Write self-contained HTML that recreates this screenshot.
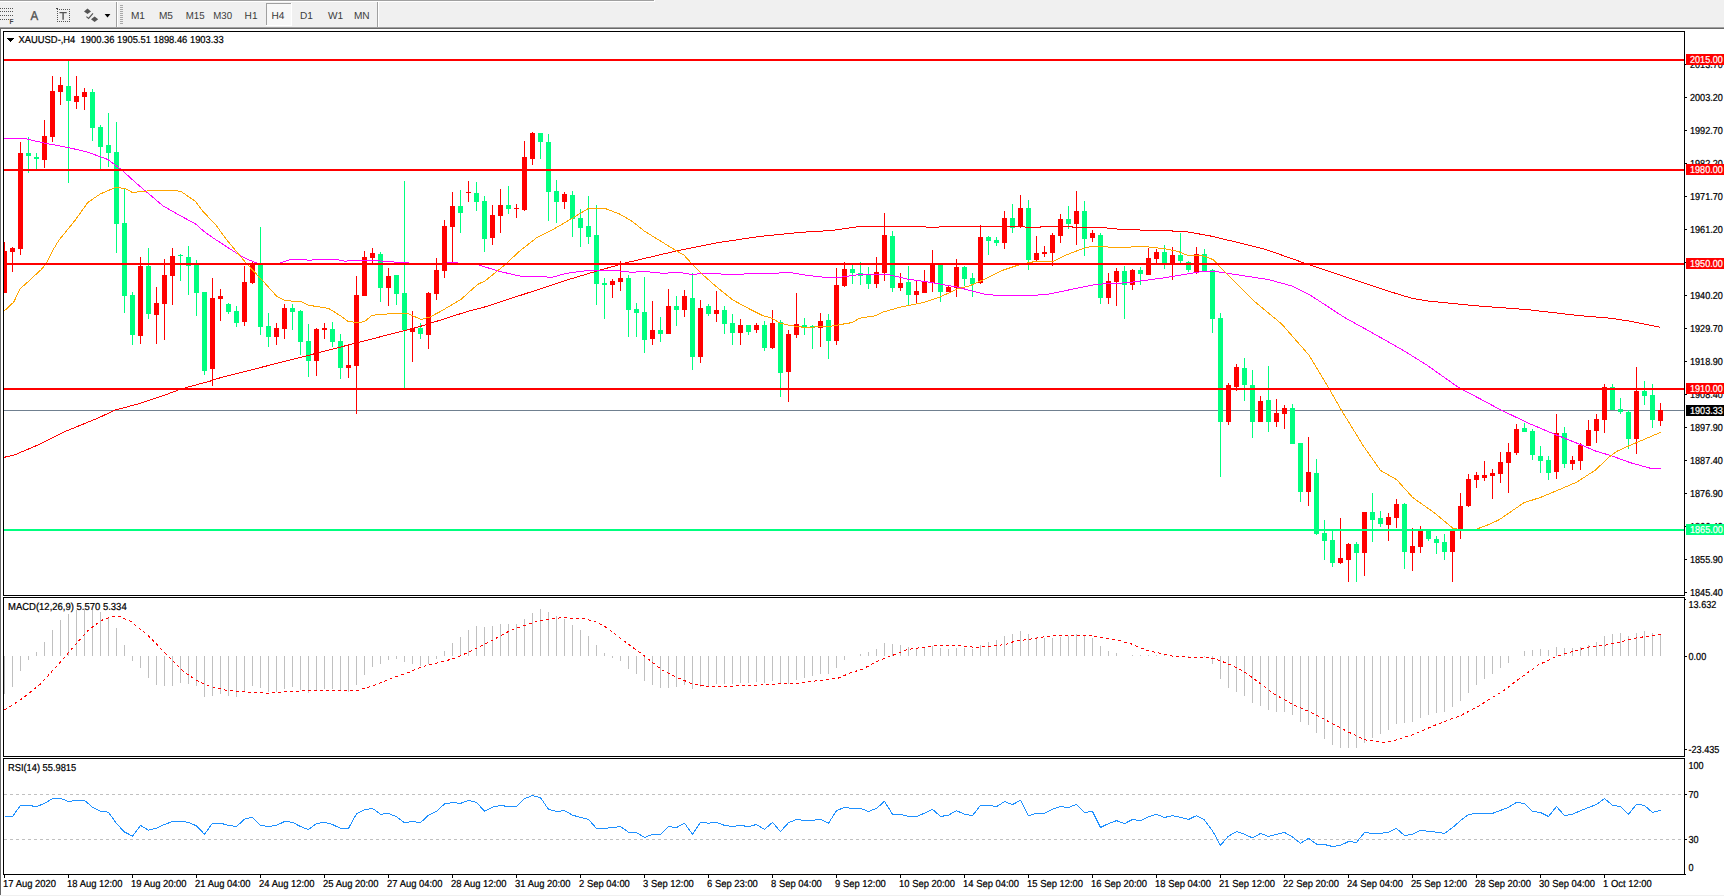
<!DOCTYPE html><html><head><meta charset="utf-8"><title>XAUUSD H4</title>
<style>html,body{margin:0;padding:0;background:#fff;}body{width:1724px;height:896px;overflow:hidden;}svg{display:block;font-family:"Liberation Sans",sans-serif;}.t{font-size:10.1px;fill:#000;stroke:#000;stroke-width:0.22px;text-rendering:geometricPrecision;}.tl{font-size:10.1px;fill:#000;stroke:#000;stroke-width:0.22px;text-rendering:geometricPrecision;}.w{fill:#fff;stroke:#fff;}.tb{font-size:10.1px;fill:#3c3c3c;text-rendering:geometricPrecision;}</style></head><body>
<svg width="1724" height="896" viewBox="0 0 1724 896">
<rect width="1724" height="896" fill="#fff"/>
<g shape-rendering="crispEdges">
<rect x="0" y="0" width="1724" height="27" fill="#f0f0f0"/>
<rect x="0" y="0" width="654" height="1" fill="#a0a0a0"/><rect x="0" y="1" width="655" height="1" fill="#fff"/><rect x="654" y="0" width="1" height="1" fill="#fff"/>
<rect x="0" y="27" width="1724" height="1" fill="#a0a0a0"/><rect x="0" y="28" width="1724" height="1" fill="#696969"/>
<rect x="0" y="8" width="1" height="1" fill="#555"/>
<rect x="2" y="8" width="1" height="1" fill="#555"/>
<rect x="4" y="8" width="1" height="1" fill="#555"/>
<rect x="6" y="8" width="1" height="1" fill="#555"/>
<rect x="8" y="8" width="1" height="1" fill="#555"/>
<rect x="10" y="8" width="1" height="1" fill="#555"/>
<rect x="12" y="8" width="1" height="1" fill="#555"/>
<rect x="0" y="11" width="1" height="1" fill="#555"/>
<rect x="2" y="11" width="1" height="1" fill="#555"/>
<rect x="4" y="11" width="1" height="1" fill="#555"/>
<rect x="6" y="11" width="1" height="1" fill="#555"/>
<rect x="8" y="11" width="1" height="1" fill="#555"/>
<rect x="10" y="11" width="1" height="1" fill="#555"/>
<rect x="12" y="11" width="1" height="1" fill="#555"/>
<rect x="0" y="15" width="1" height="1" fill="#555"/>
<rect x="2" y="15" width="1" height="1" fill="#555"/>
<rect x="4" y="15" width="1" height="1" fill="#555"/>
<rect x="6" y="15" width="1" height="1" fill="#555"/>
<rect x="8" y="15" width="1" height="1" fill="#555"/>
<rect x="10" y="15" width="1" height="1" fill="#555"/>
<rect x="12" y="15" width="1" height="1" fill="#555"/>
<rect x="0" y="19" width="1" height="1" fill="#555"/>
<rect x="2" y="19" width="1" height="1" fill="#555"/>
<rect x="4" y="19" width="1" height="1" fill="#555"/>
<rect x="6" y="19" width="1" height="1" fill="#555"/>
<rect x="8" y="19" width="1" height="1" fill="#555"/>
<rect x="57" y="9" width="1" height="1" fill="#555"/><rect x="57" y="21" width="1" height="1" fill="#555"/>
<rect x="59" y="9" width="1" height="1" fill="#555"/><rect x="59" y="21" width="1" height="1" fill="#555"/>
<rect x="61" y="9" width="1" height="1" fill="#555"/><rect x="61" y="21" width="1" height="1" fill="#555"/>
<rect x="63" y="9" width="1" height="1" fill="#555"/><rect x="63" y="21" width="1" height="1" fill="#555"/>
<rect x="65" y="9" width="1" height="1" fill="#555"/><rect x="65" y="21" width="1" height="1" fill="#555"/>
<rect x="67" y="9" width="1" height="1" fill="#555"/><rect x="67" y="21" width="1" height="1" fill="#555"/>
<rect x="69" y="9" width="1" height="1" fill="#555"/><rect x="69" y="21" width="1" height="1" fill="#555"/>
<rect x="57" y="9" width="1" height="1" fill="#555"/><rect x="69" y="9" width="1" height="1" fill="#555"/>
<rect x="57" y="11" width="1" height="1" fill="#555"/><rect x="69" y="11" width="1" height="1" fill="#555"/>
<rect x="57" y="13" width="1" height="1" fill="#555"/><rect x="69" y="13" width="1" height="1" fill="#555"/>
<rect x="57" y="15" width="1" height="1" fill="#555"/><rect x="69" y="15" width="1" height="1" fill="#555"/>
<rect x="57" y="17" width="1" height="1" fill="#555"/><rect x="69" y="17" width="1" height="1" fill="#555"/>
<rect x="57" y="19" width="1" height="1" fill="#555"/><rect x="69" y="19" width="1" height="1" fill="#555"/>
<rect x="57" y="21" width="1" height="1" fill="#555"/><rect x="69" y="21" width="1" height="1" fill="#555"/>
<rect x="56" y="8" width="2" height="1" fill="#444"/>
<rect x="116" y="2" width="1" height="25" fill="#a0a0a0"/><rect x="117" y="2" width="1" height="25" fill="#fff"/>
<rect x="377" y="2" width="1" height="25" fill="#a0a0a0"/><rect x="378" y="2" width="1" height="25" fill="#fff"/>
<rect x="120" y="5" width="3" height="1" fill="#a8a8a8"/>
<rect x="120" y="7" width="3" height="1" fill="#a8a8a8"/>
<rect x="120" y="9" width="3" height="1" fill="#a8a8a8"/>
<rect x="120" y="11" width="3" height="1" fill="#a8a8a8"/>
<rect x="120" y="13" width="3" height="1" fill="#a8a8a8"/>
<rect x="120" y="15" width="3" height="1" fill="#a8a8a8"/>
<rect x="120" y="17" width="3" height="1" fill="#a8a8a8"/>
<rect x="120" y="19" width="3" height="1" fill="#a8a8a8"/>
<rect x="120" y="21" width="3" height="1" fill="#a8a8a8"/>
<rect x="120" y="23" width="3" height="1" fill="#a8a8a8"/>
<rect x="266" y="3" width="26" height="23" fill="#f8f8f8"/>
<rect x="266" y="3" width="25" height="1" fill="#a0a0a0"/><rect x="266" y="3" width="1" height="22" fill="#a0a0a0"/>
<rect x="266" y="25" width="26" height="1" fill="#fff"/><rect x="291" y="3" width="1" height="23" fill="#fff"/>
</g>
<text x="9.6" y="24" style="font-size:6.5px;font-weight:bold;fill:#444">F</text>
<text transform="translate(30.6,19.7) scale(0.9,1)" style="font-size:12.8px;fill:#505050;stroke:#505050;stroke-width:0.35px;text-rendering:geometricPrecision">A</text>
<path d="M59.5 12.6H66.7M63.1 12.6V19.8" stroke="#555" stroke-width="1.4" fill="none"/>
<path d="M87.5 8.6L91 11.4L87.5 14L84 11.4ZM94.6 16.6L98.2 19.3L94.6 22L91 19.3Z" fill="#555"/>
<path d="M86.4 16.6L88.6 18.4L93 13.4" stroke="#555" stroke-width="1.2" fill="none"/>
<path d="M104.6 14H110.4L107.5 17.4Z" fill="#000"/>
<text class="tb" transform="translate(130.90,19.00) scale(1.0,1)" >M1</text>
<text class="tb" transform="translate(158.90,19.00) scale(1.0,1)" >M5</text>
<text class="tb" transform="translate(185.70,19.00) scale(0.96,1)" >M15</text>
<text class="tb" transform="translate(213.20,19.00) scale(0.96,1)" >M30</text>
<text class="tb" transform="translate(244.60,19.00) scale(1.0,1)" >H1</text>
<text class="tb" transform="translate(271.40,19.00) scale(1.0,1)" >H4</text>
<text class="tb" transform="translate(299.90,19.00) scale(1.0,1)" >D1</text>
<text class="tb" transform="translate(327.90,19.00) scale(1.0,1)" >W1</text>
<text class="tb" transform="translate(353.90,19.00) scale(1.0,1)" >MN</text>
<g shape-rendering="crispEdges">
<rect x="0" y="29" width="1" height="867" fill="#696969"/>
<rect x="3" y="31" width="1" height="844" fill="#000"/>
<rect x="1684" y="31" width="1" height="844" fill="#000"/>
<rect x="3" y="31" width="1682" height="1" fill="#000"/>
<rect x="3" y="595" width="1682" height="1" fill="#000"/>
<rect x="3" y="597" width="1682" height="1" fill="#000"/>
<rect x="3" y="756" width="1682" height="1" fill="#000"/>
<rect x="3" y="758" width="1682" height="1" fill="#000"/>
<rect x="3" y="874" width="1683" height="1" fill="#000"/>
<rect x="3" y="596" width="1682" height="1" fill="#fff"/>
<rect x="3" y="757" width="1682" height="1" fill="#fff"/>
<rect x="3" y="596" width="1" height="1" fill="#fff"/>
<rect x="1684" y="596" width="1" height="1" fill="#fff"/>
<rect x="3" y="757" width="1" height="1" fill="#fff"/>
<rect x="1684" y="757" width="1" height="1" fill="#fff"/>
<rect x="0" y="894.6" width="1724" height="1.4" fill="#f0f0f0"/>
</g>
<g shape-rendering="crispEdges" fill="#c0c0c0">
<rect x="4" y="656" width="1" height="38"/>
<rect x="12" y="656" width="1" height="31"/>
<rect x="20" y="656" width="1" height="15"/>
<rect x="28" y="656" width="1" height="4"/>
<rect x="36" y="652" width="1" height="4"/>
<rect x="44" y="642" width="1" height="14"/>
<rect x="52" y="630" width="1" height="26"/>
<rect x="60" y="620" width="1" height="36"/>
<rect x="68" y="614" width="1" height="42"/>
<rect x="76" y="610" width="1" height="46"/>
<rect x="84" y="609" width="1" height="47"/>
<rect x="92" y="610" width="1" height="46"/>
<rect x="100" y="612" width="1" height="44"/>
<rect x="108" y="617" width="1" height="39"/>
<rect x="116" y="628" width="1" height="28"/>
<rect x="124" y="645" width="1" height="11"/>
<rect x="132" y="656" width="1" height="5"/>
<rect x="140" y="656" width="1" height="12"/>
<rect x="148" y="656" width="1" height="22"/>
<rect x="156" y="656" width="1" height="29"/>
<rect x="164" y="656" width="1" height="30"/>
<rect x="172" y="656" width="1" height="30"/>
<rect x="180" y="656" width="1" height="27"/>
<rect x="188" y="656" width="1" height="28"/>
<rect x="196" y="656" width="1" height="30"/>
<rect x="204" y="656" width="1" height="41"/>
<rect x="212" y="656" width="1" height="40"/>
<rect x="220" y="656" width="1" height="38"/>
<rect x="228" y="656" width="1" height="40"/>
<rect x="236" y="656" width="1" height="41"/>
<rect x="244" y="656" width="1" height="36"/>
<rect x="252" y="656" width="1" height="30"/>
<rect x="260" y="656" width="1" height="32"/>
<rect x="268" y="656" width="1" height="36"/>
<rect x="276" y="656" width="1" height="36"/>
<rect x="284" y="656" width="1" height="33"/>
<rect x="292" y="656" width="1" height="31"/>
<rect x="300" y="656" width="1" height="34"/>
<rect x="308" y="656" width="1" height="37"/>
<rect x="316" y="656" width="1" height="35"/>
<rect x="324" y="656" width="1" height="33"/>
<rect x="332" y="656" width="1" height="33"/>
<rect x="340" y="656" width="1" height="35"/>
<rect x="348" y="656" width="1" height="36"/>
<rect x="356" y="656" width="1" height="29"/>
<rect x="364" y="656" width="1" height="19"/>
<rect x="372" y="656" width="1" height="11"/>
<rect x="380" y="656" width="1" height="8"/>
<rect x="388" y="656" width="1" height="4"/>
<rect x="396" y="656" width="1" height="3"/>
<rect x="404" y="656" width="1" height="6"/>
<rect x="412" y="656" width="1" height="8"/>
<rect x="420" y="656" width="1" height="10"/>
<rect x="428" y="656" width="1" height="8"/>
<rect x="436" y="656" width="1" height="3"/>
<rect x="444" y="651" width="1" height="5"/>
<rect x="452" y="643" width="1" height="13"/>
<rect x="460" y="637" width="1" height="19"/>
<rect x="468" y="630" width="1" height="26"/>
<rect x="476" y="626" width="1" height="30"/>
<rect x="484" y="627" width="1" height="29"/>
<rect x="492" y="626" width="1" height="30"/>
<rect x="500" y="624" width="1" height="32"/>
<rect x="508" y="624" width="1" height="32"/>
<rect x="516" y="624" width="1" height="32"/>
<rect x="524" y="619" width="1" height="37"/>
<rect x="532" y="613" width="1" height="43"/>
<rect x="540" y="609" width="1" height="47"/>
<rect x="548" y="612" width="1" height="44"/>
<rect x="556" y="616" width="1" height="40"/>
<rect x="564" y="619" width="1" height="37"/>
<rect x="572" y="625" width="1" height="31"/>
<rect x="580" y="630" width="1" height="26"/>
<rect x="588" y="636" width="1" height="20"/>
<rect x="596" y="645" width="1" height="11"/>
<rect x="604" y="653" width="1" height="3"/>
<rect x="612" y="656" width="1" height="2"/>
<rect x="620" y="656" width="1" height="5"/>
<rect x="628" y="656" width="1" height="13"/>
<rect x="636" y="656" width="1" height="18"/>
<rect x="644" y="656" width="1" height="25"/>
<rect x="652" y="656" width="1" height="29"/>
<rect x="660" y="656" width="1" height="32"/>
<rect x="668" y="656" width="1" height="32"/>
<rect x="676" y="656" width="1" height="31"/>
<rect x="684" y="656" width="1" height="29"/>
<rect x="692" y="656" width="1" height="33"/>
<rect x="700" y="656" width="1" height="31"/>
<rect x="708" y="656" width="1" height="30"/>
<rect x="716" y="656" width="1" height="28"/>
<rect x="724" y="656" width="1" height="28"/>
<rect x="732" y="656" width="1" height="28"/>
<rect x="740" y="656" width="1" height="27"/>
<rect x="748" y="656" width="1" height="27"/>
<rect x="756" y="656" width="1" height="26"/>
<rect x="764" y="656" width="1" height="27"/>
<rect x="772" y="656" width="1" height="25"/>
<rect x="780" y="656" width="1" height="28"/>
<rect x="788" y="656" width="1" height="28"/>
<rect x="796" y="656" width="1" height="24"/>
<rect x="804" y="656" width="1" height="22"/>
<rect x="812" y="656" width="1" height="20"/>
<rect x="820" y="656" width="1" height="18"/>
<rect x="828" y="656" width="1" height="18"/>
<rect x="836" y="656" width="1" height="12"/>
<rect x="844" y="656" width="1" height="4"/>
<rect x="860" y="654" width="1" height="2"/>
<rect x="868" y="652" width="1" height="4"/>
<rect x="876" y="649" width="1" height="7"/>
<rect x="884" y="643" width="1" height="13"/>
<rect x="892" y="644" width="1" height="12"/>
<rect x="900" y="645" width="1" height="11"/>
<rect x="908" y="647" width="1" height="9"/>
<rect x="916" y="648" width="1" height="8"/>
<rect x="924" y="648" width="1" height="8"/>
<rect x="932" y="646" width="1" height="10"/>
<rect x="940" y="648" width="1" height="8"/>
<rect x="948" y="649" width="1" height="7"/>
<rect x="956" y="648" width="1" height="8"/>
<rect x="964" y="648" width="1" height="8"/>
<rect x="972" y="649" width="1" height="7"/>
<rect x="980" y="645" width="1" height="11"/>
<rect x="988" y="642" width="1" height="14"/>
<rect x="996" y="640" width="1" height="16"/>
<rect x="1004" y="636" width="1" height="20"/>
<rect x="1012" y="634" width="1" height="22"/>
<rect x="1020" y="631" width="1" height="25"/>
<rect x="1028" y="634" width="1" height="22"/>
<rect x="1036" y="637" width="1" height="19"/>
<rect x="1044" y="638" width="1" height="18"/>
<rect x="1052" y="638" width="1" height="18"/>
<rect x="1060" y="637" width="1" height="19"/>
<rect x="1068" y="636" width="1" height="20"/>
<rect x="1076" y="634" width="1" height="22"/>
<rect x="1084" y="636" width="1" height="20"/>
<rect x="1092" y="638" width="1" height="18"/>
<rect x="1100" y="646" width="1" height="10"/>
<rect x="1108" y="651" width="1" height="5"/>
<rect x="1116" y="653" width="1" height="3"/>
<rect x="1132" y="655" width="1" height="1"/>
<rect x="1140" y="655" width="1" height="1"/>
<rect x="1148" y="655" width="1" height="1"/>
<rect x="1156" y="655" width="1" height="1"/>
<rect x="1164" y="655" width="1" height="1"/>
<rect x="1188" y="656" width="1" height="1"/>
<rect x="1204" y="656" width="1" height="1"/>
<rect x="1212" y="656" width="1" height="8"/>
<rect x="1220" y="656" width="1" height="23"/>
<rect x="1228" y="656" width="1" height="32"/>
<rect x="1236" y="656" width="1" height="36"/>
<rect x="1244" y="656" width="1" height="40"/>
<rect x="1252" y="656" width="1" height="47"/>
<rect x="1260" y="656" width="1" height="50"/>
<rect x="1268" y="656" width="1" height="54"/>
<rect x="1276" y="656" width="1" height="56"/>
<rect x="1284" y="656" width="1" height="56"/>
<rect x="1292" y="656" width="1" height="59"/>
<rect x="1300" y="656" width="1" height="66"/>
<rect x="1308" y="656" width="1" height="69"/>
<rect x="1316" y="656" width="1" height="77"/>
<rect x="1324" y="656" width="1" height="83"/>
<rect x="1332" y="656" width="1" height="89"/>
<rect x="1340" y="656" width="1" height="92"/>
<rect x="1348" y="656" width="1" height="92"/>
<rect x="1356" y="656" width="1" height="92"/>
<rect x="1364" y="656" width="1" height="87"/>
<rect x="1372" y="656" width="1" height="82"/>
<rect x="1380" y="656" width="1" height="78"/>
<rect x="1388" y="656" width="1" height="74"/>
<rect x="1396" y="656" width="1" height="68"/>
<rect x="1404" y="656" width="1" height="67"/>
<rect x="1412" y="656" width="1" height="66"/>
<rect x="1420" y="656" width="1" height="62"/>
<rect x="1428" y="656" width="1" height="59"/>
<rect x="1436" y="656" width="1" height="57"/>
<rect x="1444" y="656" width="1" height="56"/>
<rect x="1452" y="656" width="1" height="51"/>
<rect x="1460" y="656" width="1" height="45"/>
<rect x="1468" y="656" width="1" height="37"/>
<rect x="1476" y="656" width="1" height="29"/>
<rect x="1484" y="656" width="1" height="23"/>
<rect x="1492" y="656" width="1" height="18"/>
<rect x="1500" y="656" width="1" height="12"/>
<rect x="1508" y="656" width="1" height="7"/>
<rect x="1524" y="651" width="1" height="5"/>
<rect x="1532" y="650" width="1" height="6"/>
<rect x="1540" y="649" width="1" height="7"/>
<rect x="1548" y="650" width="1" height="6"/>
<rect x="1556" y="647" width="1" height="9"/>
<rect x="1564" y="648" width="1" height="8"/>
<rect x="1572" y="648" width="1" height="8"/>
<rect x="1580" y="647" width="1" height="9"/>
<rect x="1588" y="645" width="1" height="11"/>
<rect x="1596" y="642" width="1" height="14"/>
<rect x="1604" y="636" width="1" height="20"/>
<rect x="1612" y="634" width="1" height="22"/>
<rect x="1620" y="633" width="1" height="23"/>
<rect x="1628" y="636" width="1" height="20"/>
<rect x="1636" y="633" width="1" height="23"/>
<rect x="1644" y="631" width="1" height="25"/>
<rect x="1652" y="633" width="1" height="23"/>
<rect x="1660" y="634" width="1" height="22"/>
</g>
<polyline points="4.5,710.1 23.2,698.0 41.1,683.4 62.5,659.6 78.6,640.9 89.3,629.3 101.8,620.3 112.5,616.2 117.9,615.9 130.4,621.2 148.2,635.5 169.6,657.8 182.1,670.3 194.6,679.3 207.1,685.5 225.0,690.0 241.1,691.8 267.9,693.2 285.7,691.8 307.9,690.5 357.2,690.5 371.5,686.4 380.4,682.9 392.9,677.5 407.2,673.0 421.5,666.8 439.4,662.3 453.7,658.7 468.0,652.5 489.4,641.8 510.8,630.2 525.1,625.2 539.4,620.7 560.8,617.7 584.1,618.5 596.6,622.1 608.0,628.4 621.4,639.1 644.7,656.1 662.5,670.4 675.0,676.6 691.1,683.4 709.0,686.8 725.1,686.8 739.4,685.5 760.8,685.0 778.7,683.8 796.5,683.4 814.4,681.1 837.6,678.4 850.1,673.0 862.6,669.1 878.7,660.5 893.0,655.2 907.1,649.5 921.4,647.5 939.3,645.3 967.9,646.2 975.0,647.5 989.3,646.2 1005.4,644.5 1014.3,641.4 1028.6,639.4 1046.5,636.4 1060.8,635.5 1087.6,635.2 1096.5,636.9 1114.4,639.4 1130.5,643.6 1146.6,650.3 1164.4,654.3 1173.4,656.4 1185.9,657.0 1209.0,657.3 1219.7,660.5 1232.2,665.5 1244.7,672.1 1262.5,685.2 1275.0,694.5 1292.9,704.7 1310.8,712.3 1328.6,721.6 1346.5,731.1 1364.4,739.7 1382.2,742.4 1394.7,740.4 1412.6,734.7 1435.8,724.9 1460.9,715.4 1478.7,706.1 1490.1,698.9 1502.6,691.4 1520.4,677.9 1538.3,665.0 1556.1,656.4 1572.2,651.6 1588.3,647.1 1604.4,645.4 1620.4,641.8 1636.5,637.9 1652.6,635.5 1660.6,634.3" fill="none" stroke="#ff0000" stroke-width="1" shape-rendering="crispEdges" stroke-dasharray="3 3"/>
<g shape-rendering="crispEdges">
<line x1="4" x2="1684" y1="794.5" y2="794.5" stroke="#c0c0c0" stroke-width="1" stroke-dasharray="3 3"/>
<line x1="4" x2="1684" y1="839.5" y2="839.5" stroke="#c0c0c0" stroke-width="1" stroke-dasharray="3 3"/>
</g>
<polyline points="4.5,816.5 12.5,816.5 20.5,805.4 28.5,805.4 36.5,806.6 44.5,803.4 52.5,798.6 60.5,798.2 68.5,801.6 76.5,800.4 84.5,800.4 92.5,807.2 100.5,811.1 108.5,812.3 116.5,823.6 124.5,832.0 132.5,836.1 140.5,825.4 148.5,830.2 156.5,828.1 164.5,824.5 172.5,821.5 180.5,821.3 188.5,822.3 196.5,825.9 204.5,834.3 212.5,823.2 220.5,823.2 228.5,825.4 236.5,826.6 244.5,819.1 252.5,817.3 260.5,825.4 268.5,826.6 276.5,825.4 284.5,821.5 292.5,822.3 300.5,826.6 308.5,829.5 316.5,823.6 324.5,822.3 332.5,824.5 340.5,828.4 348.5,828.4 356.5,813.8 364.5,809.7 372.5,808.4 380.5,814.3 388.5,813.4 396.5,816.8 404.5,822.7 412.5,821.5 420.5,822.7 428.5,815.2 436.5,811.5 444.5,803.9 452.5,802.5 460.5,803.4 468.5,800.4 476.5,802.5 484.5,811.1 492.5,807.2 500.5,805.4 508.5,806.6 516.5,806.6 524.5,798.6 532.5,795.5 540.5,797.7 548.5,809.3 556.5,811.5 564.5,810.6 572.5,815.2 580.5,817.3 588.5,819.5 596.5,828.4 604.5,828.4 612.5,827.5 620.5,826.6 628.5,832.2 636.5,832.5 644.5,837.5 652.5,834.3 660.5,834.3 668.5,826.6 676.5,827.5 684.5,823.2 692.5,834.3 700.5,822.3 708.5,823.2 716.5,822.3 724.5,825.4 732.5,826.6 740.5,825.4 748.5,826.6 756.5,824.5 764.5,829.5 772.5,822.3 780.5,831.6 788.5,822.7 796.5,819.5 804.5,820.4 812.5,820.4 820.5,819.1 828.5,823.2 836.5,810.6 844.5,807.5 852.5,808.4 860.5,808.4 868.5,811.5 876.5,808.4 884.5,801.3 892.5,814.3 900.5,814.3 908.5,816.5 916.5,816.5 924.5,813.2 932.5,809.3 940.5,816.5 948.5,815.2 956.5,810.6 964.5,814.3 972.5,815.6 980.5,805.4 988.5,805.4 996.5,806.6 1004.5,801.6 1012.5,804.5 1020.5,800.4 1028.5,815.6 1036.5,813.4 1044.5,813.4 1052.5,809.3 1060.5,806.6 1068.5,807.5 1076.5,804.3 1084.5,812.5 1092.5,811.5 1100.5,827.5 1108.5,823.6 1116.5,820.6 1124.5,823.6 1132.5,819.5 1140.5,820.6 1148.5,816.8 1156.5,814.3 1164.5,817.5 1172.5,815.6 1180.5,817.3 1188.5,819.5 1196.5,815.6 1204.5,820.0 1212.5,830.7 1220.5,845.4 1228.5,836.1 1236.5,831.6 1244.5,834.3 1252.5,837.9 1260.5,833.4 1268.5,836.5 1276.5,834.3 1284.5,832.5 1292.5,837.0 1300.5,843.3 1308.5,838.4 1316.5,844.1 1324.5,844.5 1332.5,846.5 1340.5,845.4 1348.5,841.5 1356.5,842.4 1364.5,832.5 1372.5,833.4 1380.5,833.4 1388.5,832.2 1396.5,828.4 1404.5,835.6 1412.5,834.3 1420.5,830.4 1428.5,831.3 1436.5,832.2 1444.5,833.4 1452.5,827.7 1460.5,820.6 1468.5,814.5 1476.5,813.4 1484.5,813.4 1492.5,813.4 1500.5,810.4 1508.5,807.3 1516.5,802.5 1524.5,803.4 1532.5,811.5 1540.5,812.5 1548.5,816.5 1556.5,806.6 1564.5,815.6 1572.5,814.3 1580.5,810.7 1588.5,807.5 1596.5,804.5 1604.5,798.6 1612.5,805.4 1620.5,806.6 1628.5,814.3 1636.5,804.3 1644.5,805.4 1652.5,812.5 1660.5,810.2" fill="none" stroke="#1e90ff" stroke-width="1" shape-rendering="crispEdges" />
<g shape-rendering="crispEdges">
<rect x="4" y="410" width="1680" height="1" fill="#708090"/>
<rect x="4" y="242" width="1" height="51" fill="#ff0000"/>
<rect x="4" y="251" width="3" height="42" fill="#ff0000"/>
<rect x="12" y="247" width="1" height="25" fill="#ff0000"/>
<rect x="10" y="248" width="5" height="4" fill="#ff0000"/>
<rect x="20" y="142" width="1" height="113" fill="#ff0000"/>
<rect x="18" y="153" width="5" height="96" fill="#ff0000"/>
<rect x="28" y="137" width="1" height="36" fill="#00ff7f"/>
<rect x="26" y="153" width="5" height="3" fill="#00ff7f"/>
<rect x="36" y="153" width="1" height="16" fill="#00ff7f"/>
<rect x="34" y="157" width="5" height="2" fill="#00ff7f"/>
<rect x="44" y="120" width="1" height="48" fill="#ff0000"/>
<rect x="42" y="136" width="5" height="24" fill="#ff0000"/>
<rect x="52" y="76" width="1" height="66" fill="#ff0000"/>
<rect x="50" y="91" width="5" height="46" fill="#ff0000"/>
<rect x="60" y="77" width="1" height="28" fill="#ff0000"/>
<rect x="58" y="85" width="5" height="7" fill="#ff0000"/>
<rect x="68" y="61" width="1" height="122" fill="#00ff7f"/>
<rect x="66" y="86" width="5" height="15" fill="#00ff7f"/>
<rect x="76" y="76" width="1" height="33" fill="#ff0000"/>
<rect x="74" y="96" width="5" height="6" fill="#ff0000"/>
<rect x="84" y="88" width="1" height="22" fill="#ff0000"/>
<rect x="82" y="92" width="5" height="5" fill="#ff0000"/>
<rect x="92" y="89" width="1" height="52" fill="#00ff7f"/>
<rect x="90" y="92" width="5" height="36" fill="#00ff7f"/>
<rect x="100" y="125" width="1" height="44" fill="#00ff7f"/>
<rect x="98" y="127" width="5" height="20" fill="#00ff7f"/>
<rect x="108" y="113" width="1" height="54" fill="#00ff7f"/>
<rect x="106" y="145" width="5" height="8" fill="#00ff7f"/>
<rect x="116" y="122" width="1" height="131" fill="#00ff7f"/>
<rect x="114" y="152" width="5" height="72" fill="#00ff7f"/>
<rect x="124" y="189" width="1" height="124" fill="#00ff7f"/>
<rect x="122" y="223" width="5" height="73" fill="#00ff7f"/>
<rect x="132" y="292" width="1" height="53" fill="#00ff7f"/>
<rect x="130" y="295" width="5" height="40" fill="#00ff7f"/>
<rect x="140" y="257" width="1" height="87" fill="#ff0000"/>
<rect x="138" y="266" width="5" height="70" fill="#ff0000"/>
<rect x="148" y="248" width="1" height="71" fill="#00ff7f"/>
<rect x="146" y="266" width="5" height="48" fill="#00ff7f"/>
<rect x="156" y="287" width="1" height="57" fill="#ff0000"/>
<rect x="154" y="303" width="5" height="12" fill="#ff0000"/>
<rect x="164" y="259" width="1" height="81" fill="#ff0000"/>
<rect x="162" y="275" width="5" height="29" fill="#ff0000"/>
<rect x="172" y="248" width="1" height="57" fill="#ff0000"/>
<rect x="170" y="256" width="5" height="20" fill="#ff0000"/>
<rect x="180" y="254" width="1" height="27" fill="#00ff7f"/>
<rect x="178" y="255" width="5" height="1" fill="#00ff7f"/>
<rect x="188" y="246" width="1" height="49" fill="#00ff7f"/>
<rect x="186" y="257" width="5" height="9" fill="#00ff7f"/>
<rect x="196" y="260" width="1" height="56" fill="#00ff7f"/>
<rect x="194" y="265" width="5" height="28" fill="#00ff7f"/>
<rect x="204" y="292" width="1" height="83" fill="#00ff7f"/>
<rect x="202" y="292" width="5" height="79" fill="#00ff7f"/>
<rect x="212" y="278" width="1" height="108" fill="#ff0000"/>
<rect x="210" y="298" width="5" height="71" fill="#ff0000"/>
<rect x="220" y="289" width="1" height="32" fill="#ff0000"/>
<rect x="218" y="296" width="5" height="3" fill="#ff0000"/>
<rect x="228" y="303" width="1" height="11" fill="#00ff7f"/>
<rect x="226" y="304" width="5" height="8" fill="#00ff7f"/>
<rect x="236" y="306" width="1" height="21" fill="#00ff7f"/>
<rect x="234" y="311" width="5" height="12" fill="#00ff7f"/>
<rect x="244" y="266" width="1" height="60" fill="#ff0000"/>
<rect x="242" y="282" width="5" height="40" fill="#ff0000"/>
<rect x="252" y="262" width="1" height="22" fill="#ff0000"/>
<rect x="250" y="264" width="5" height="19" fill="#ff0000"/>
<rect x="260" y="227" width="1" height="108" fill="#00ff7f"/>
<rect x="258" y="265" width="5" height="62" fill="#00ff7f"/>
<rect x="268" y="313" width="1" height="34" fill="#00ff7f"/>
<rect x="266" y="326" width="5" height="11" fill="#00ff7f"/>
<rect x="276" y="323" width="1" height="22" fill="#ff0000"/>
<rect x="274" y="328" width="5" height="9" fill="#ff0000"/>
<rect x="284" y="304" width="1" height="35" fill="#ff0000"/>
<rect x="282" y="308" width="5" height="21" fill="#ff0000"/>
<rect x="292" y="304" width="1" height="26" fill="#00ff7f"/>
<rect x="290" y="308" width="5" height="4" fill="#00ff7f"/>
<rect x="300" y="310" width="1" height="45" fill="#00ff7f"/>
<rect x="298" y="311" width="5" height="31" fill="#00ff7f"/>
<rect x="308" y="324" width="1" height="53" fill="#00ff7f"/>
<rect x="306" y="341" width="5" height="20" fill="#00ff7f"/>
<rect x="316" y="328" width="1" height="48" fill="#ff0000"/>
<rect x="314" y="329" width="5" height="32" fill="#ff0000"/>
<rect x="324" y="323" width="1" height="16" fill="#ff0000"/>
<rect x="322" y="328" width="5" height="2" fill="#ff0000"/>
<rect x="332" y="322" width="1" height="25" fill="#00ff7f"/>
<rect x="330" y="329" width="5" height="13" fill="#00ff7f"/>
<rect x="340" y="334" width="1" height="45" fill="#00ff7f"/>
<rect x="338" y="341" width="5" height="27" fill="#00ff7f"/>
<rect x="348" y="345" width="1" height="33" fill="#ff0000"/>
<rect x="346" y="365" width="5" height="3" fill="#ff0000"/>
<rect x="356" y="276" width="1" height="138" fill="#ff0000"/>
<rect x="354" y="295" width="5" height="71" fill="#ff0000"/>
<rect x="364" y="251" width="1" height="45" fill="#ff0000"/>
<rect x="362" y="257" width="5" height="39" fill="#ff0000"/>
<rect x="372" y="248" width="1" height="16" fill="#ff0000"/>
<rect x="370" y="253" width="5" height="5" fill="#ff0000"/>
<rect x="380" y="252" width="1" height="50" fill="#00ff7f"/>
<rect x="378" y="254" width="5" height="34" fill="#00ff7f"/>
<rect x="388" y="268" width="1" height="38" fill="#ff0000"/>
<rect x="386" y="276" width="5" height="12" fill="#ff0000"/>
<rect x="396" y="275" width="1" height="30" fill="#00ff7f"/>
<rect x="394" y="275" width="5" height="19" fill="#00ff7f"/>
<rect x="404" y="181" width="1" height="207" fill="#00ff7f"/>
<rect x="402" y="293" width="5" height="37" fill="#00ff7f"/>
<rect x="412" y="311" width="1" height="51" fill="#ff0000"/>
<rect x="410" y="328" width="5" height="4" fill="#ff0000"/>
<rect x="420" y="323" width="1" height="16" fill="#00ff7f"/>
<rect x="418" y="328" width="5" height="6" fill="#00ff7f"/>
<rect x="428" y="292" width="1" height="57" fill="#ff0000"/>
<rect x="426" y="293" width="5" height="42" fill="#ff0000"/>
<rect x="436" y="258" width="1" height="42" fill="#ff0000"/>
<rect x="434" y="270" width="5" height="24" fill="#ff0000"/>
<rect x="444" y="220" width="1" height="58" fill="#ff0000"/>
<rect x="442" y="226" width="5" height="45" fill="#ff0000"/>
<rect x="452" y="192" width="1" height="71" fill="#ff0000"/>
<rect x="450" y="206" width="5" height="21" fill="#ff0000"/>
<rect x="460" y="190" width="1" height="43" fill="#00ff7f"/>
<rect x="458" y="206" width="5" height="7" fill="#00ff7f"/>
<rect x="468" y="181" width="1" height="21" fill="#ff0000"/>
<rect x="466" y="192" width="5" height="1" fill="#ff0000"/>
<rect x="476" y="182" width="1" height="29" fill="#00ff7f"/>
<rect x="474" y="193" width="5" height="9" fill="#00ff7f"/>
<rect x="484" y="196" width="1" height="56" fill="#00ff7f"/>
<rect x="482" y="201" width="5" height="38" fill="#00ff7f"/>
<rect x="492" y="205" width="1" height="40" fill="#ff0000"/>
<rect x="490" y="215" width="5" height="23" fill="#ff0000"/>
<rect x="500" y="189" width="1" height="44" fill="#ff0000"/>
<rect x="498" y="205" width="5" height="11" fill="#ff0000"/>
<rect x="508" y="186" width="1" height="28" fill="#00ff7f"/>
<rect x="506" y="205" width="5" height="4" fill="#00ff7f"/>
<rect x="516" y="204" width="1" height="14" fill="#ff0000"/>
<rect x="514" y="208" width="5" height="1" fill="#ff0000"/>
<rect x="524" y="141" width="1" height="70" fill="#ff0000"/>
<rect x="522" y="157" width="5" height="53" fill="#ff0000"/>
<rect x="532" y="132" width="1" height="33" fill="#ff0000"/>
<rect x="530" y="133" width="5" height="26" fill="#ff0000"/>
<rect x="540" y="133" width="1" height="26" fill="#00ff7f"/>
<rect x="538" y="133" width="5" height="9" fill="#00ff7f"/>
<rect x="548" y="134" width="1" height="87" fill="#00ff7f"/>
<rect x="546" y="142" width="5" height="50" fill="#00ff7f"/>
<rect x="556" y="180" width="1" height="43" fill="#00ff7f"/>
<rect x="554" y="191" width="5" height="11" fill="#00ff7f"/>
<rect x="564" y="192" width="1" height="17" fill="#ff0000"/>
<rect x="562" y="194" width="5" height="8" fill="#ff0000"/>
<rect x="572" y="191" width="1" height="46" fill="#00ff7f"/>
<rect x="570" y="195" width="5" height="24" fill="#00ff7f"/>
<rect x="580" y="209" width="1" height="38" fill="#00ff7f"/>
<rect x="578" y="218" width="5" height="10" fill="#00ff7f"/>
<rect x="588" y="196" width="1" height="48" fill="#00ff7f"/>
<rect x="586" y="226" width="5" height="11" fill="#00ff7f"/>
<rect x="596" y="205" width="1" height="100" fill="#00ff7f"/>
<rect x="594" y="235" width="5" height="49" fill="#00ff7f"/>
<rect x="604" y="278" width="1" height="41" fill="#00ff7f"/>
<rect x="602" y="283" width="5" height="2" fill="#00ff7f"/>
<rect x="612" y="279" width="1" height="19" fill="#ff0000"/>
<rect x="610" y="281" width="5" height="4" fill="#ff0000"/>
<rect x="620" y="261" width="1" height="30" fill="#ff0000"/>
<rect x="618" y="278" width="5" height="4" fill="#ff0000"/>
<rect x="628" y="275" width="1" height="62" fill="#00ff7f"/>
<rect x="626" y="278" width="5" height="32" fill="#00ff7f"/>
<rect x="636" y="303" width="1" height="34" fill="#00ff7f"/>
<rect x="634" y="309" width="5" height="4" fill="#00ff7f"/>
<rect x="644" y="277" width="1" height="76" fill="#00ff7f"/>
<rect x="642" y="312" width="5" height="28" fill="#00ff7f"/>
<rect x="652" y="301" width="1" height="44" fill="#ff0000"/>
<rect x="650" y="330" width="5" height="9" fill="#ff0000"/>
<rect x="660" y="317" width="1" height="25" fill="#00ff7f"/>
<rect x="658" y="330" width="5" height="4" fill="#00ff7f"/>
<rect x="668" y="289" width="1" height="45" fill="#ff0000"/>
<rect x="666" y="306" width="5" height="28" fill="#ff0000"/>
<rect x="676" y="296" width="1" height="30" fill="#00ff7f"/>
<rect x="674" y="306" width="5" height="4" fill="#00ff7f"/>
<rect x="684" y="290" width="1" height="27" fill="#ff0000"/>
<rect x="682" y="296" width="5" height="14" fill="#ff0000"/>
<rect x="692" y="273" width="1" height="97" fill="#00ff7f"/>
<rect x="690" y="298" width="5" height="59" fill="#00ff7f"/>
<rect x="700" y="300" width="1" height="63" fill="#ff0000"/>
<rect x="698" y="308" width="5" height="49" fill="#ff0000"/>
<rect x="708" y="304" width="1" height="12" fill="#00ff7f"/>
<rect x="706" y="306" width="5" height="8" fill="#00ff7f"/>
<rect x="716" y="291" width="1" height="31" fill="#ff0000"/>
<rect x="714" y="310" width="5" height="4" fill="#ff0000"/>
<rect x="724" y="306" width="1" height="28" fill="#00ff7f"/>
<rect x="722" y="310" width="5" height="14" fill="#00ff7f"/>
<rect x="732" y="314" width="1" height="31" fill="#00ff7f"/>
<rect x="730" y="323" width="5" height="10" fill="#00ff7f"/>
<rect x="740" y="319" width="1" height="26" fill="#ff0000"/>
<rect x="738" y="325" width="5" height="8" fill="#ff0000"/>
<rect x="748" y="325" width="1" height="10" fill="#00ff7f"/>
<rect x="746" y="325" width="5" height="7" fill="#00ff7f"/>
<rect x="756" y="323" width="1" height="10" fill="#ff0000"/>
<rect x="754" y="325" width="5" height="5" fill="#ff0000"/>
<rect x="764" y="321" width="1" height="30" fill="#00ff7f"/>
<rect x="762" y="325" width="5" height="23" fill="#00ff7f"/>
<rect x="772" y="310" width="1" height="39" fill="#ff0000"/>
<rect x="770" y="323" width="5" height="25" fill="#ff0000"/>
<rect x="780" y="320" width="1" height="77" fill="#00ff7f"/>
<rect x="778" y="322" width="5" height="51" fill="#00ff7f"/>
<rect x="788" y="330" width="1" height="72" fill="#ff0000"/>
<rect x="786" y="334" width="5" height="38" fill="#ff0000"/>
<rect x="796" y="293" width="1" height="45" fill="#ff0000"/>
<rect x="794" y="324" width="5" height="11" fill="#ff0000"/>
<rect x="804" y="318" width="1" height="17" fill="#00ff7f"/>
<rect x="802" y="325" width="5" height="2" fill="#00ff7f"/>
<rect x="812" y="325" width="1" height="24" fill="#00ff7f"/>
<rect x="810" y="326" width="5" height="2" fill="#00ff7f"/>
<rect x="820" y="313" width="1" height="34" fill="#ff0000"/>
<rect x="818" y="321" width="5" height="7" fill="#ff0000"/>
<rect x="828" y="314" width="1" height="45" fill="#00ff7f"/>
<rect x="826" y="320" width="5" height="21" fill="#00ff7f"/>
<rect x="836" y="268" width="1" height="77" fill="#ff0000"/>
<rect x="834" y="285" width="5" height="56" fill="#ff0000"/>
<rect x="844" y="262" width="1" height="25" fill="#ff0000"/>
<rect x="842" y="269" width="5" height="17" fill="#ff0000"/>
<rect x="852" y="265" width="1" height="19" fill="#00ff7f"/>
<rect x="850" y="269" width="5" height="4" fill="#00ff7f"/>
<rect x="860" y="262" width="1" height="23" fill="#00ff7f"/>
<rect x="858" y="273" width="5" height="3" fill="#00ff7f"/>
<rect x="868" y="267" width="1" height="22" fill="#00ff7f"/>
<rect x="866" y="275" width="5" height="9" fill="#00ff7f"/>
<rect x="876" y="257" width="1" height="31" fill="#ff0000"/>
<rect x="874" y="272" width="5" height="12" fill="#ff0000"/>
<rect x="884" y="213" width="1" height="68" fill="#ff0000"/>
<rect x="882" y="235" width="5" height="38" fill="#ff0000"/>
<rect x="892" y="231" width="1" height="61" fill="#00ff7f"/>
<rect x="890" y="236" width="5" height="52" fill="#00ff7f"/>
<rect x="900" y="273" width="1" height="18" fill="#ff0000"/>
<rect x="898" y="283" width="5" height="5" fill="#ff0000"/>
<rect x="908" y="266" width="1" height="39" fill="#00ff7f"/>
<rect x="906" y="282" width="5" height="13" fill="#00ff7f"/>
<rect x="916" y="281" width="1" height="23" fill="#ff0000"/>
<rect x="914" y="291" width="5" height="4" fill="#ff0000"/>
<rect x="924" y="270" width="1" height="23" fill="#ff0000"/>
<rect x="922" y="282" width="5" height="11" fill="#ff0000"/>
<rect x="932" y="250" width="1" height="42" fill="#ff0000"/>
<rect x="930" y="264" width="5" height="19" fill="#ff0000"/>
<rect x="940" y="264" width="1" height="38" fill="#00ff7f"/>
<rect x="938" y="265" width="5" height="27" fill="#00ff7f"/>
<rect x="948" y="286" width="1" height="6" fill="#ff0000"/>
<rect x="946" y="287" width="5" height="5" fill="#ff0000"/>
<rect x="956" y="259" width="1" height="38" fill="#ff0000"/>
<rect x="954" y="267" width="5" height="21" fill="#ff0000"/>
<rect x="964" y="266" width="1" height="20" fill="#00ff7f"/>
<rect x="962" y="267" width="5" height="12" fill="#00ff7f"/>
<rect x="972" y="273" width="1" height="24" fill="#00ff7f"/>
<rect x="970" y="278" width="5" height="6" fill="#00ff7f"/>
<rect x="980" y="225" width="1" height="59" fill="#ff0000"/>
<rect x="978" y="237" width="5" height="46" fill="#ff0000"/>
<rect x="988" y="236" width="1" height="19" fill="#00ff7f"/>
<rect x="986" y="237" width="5" height="4" fill="#00ff7f"/>
<rect x="996" y="237" width="1" height="9" fill="#00ff7f"/>
<rect x="994" y="240" width="5" height="3" fill="#00ff7f"/>
<rect x="1004" y="211" width="1" height="38" fill="#ff0000"/>
<rect x="1002" y="218" width="5" height="25" fill="#ff0000"/>
<rect x="1012" y="204" width="1" height="29" fill="#00ff7f"/>
<rect x="1010" y="218" width="5" height="10" fill="#00ff7f"/>
<rect x="1020" y="195" width="1" height="33" fill="#ff0000"/>
<rect x="1018" y="208" width="5" height="19" fill="#ff0000"/>
<rect x="1028" y="200" width="1" height="70" fill="#00ff7f"/>
<rect x="1026" y="208" width="5" height="52" fill="#00ff7f"/>
<rect x="1036" y="236" width="1" height="25" fill="#ff0000"/>
<rect x="1034" y="253" width="5" height="7" fill="#ff0000"/>
<rect x="1044" y="246" width="1" height="11" fill="#ff0000"/>
<rect x="1042" y="252" width="5" height="2" fill="#ff0000"/>
<rect x="1052" y="233" width="1" height="33" fill="#ff0000"/>
<rect x="1050" y="235" width="5" height="18" fill="#ff0000"/>
<rect x="1060" y="214" width="1" height="29" fill="#ff0000"/>
<rect x="1058" y="219" width="5" height="17" fill="#ff0000"/>
<rect x="1068" y="206" width="1" height="23" fill="#00ff7f"/>
<rect x="1066" y="219" width="5" height="5" fill="#00ff7f"/>
<rect x="1076" y="191" width="1" height="54" fill="#ff0000"/>
<rect x="1074" y="211" width="5" height="13" fill="#ff0000"/>
<rect x="1084" y="201" width="1" height="55" fill="#00ff7f"/>
<rect x="1082" y="211" width="5" height="28" fill="#00ff7f"/>
<rect x="1092" y="230" width="1" height="12" fill="#ff0000"/>
<rect x="1090" y="233" width="5" height="5" fill="#ff0000"/>
<rect x="1100" y="233" width="1" height="71" fill="#00ff7f"/>
<rect x="1098" y="235" width="5" height="63" fill="#00ff7f"/>
<rect x="1108" y="273" width="1" height="31" fill="#ff0000"/>
<rect x="1106" y="281" width="5" height="17" fill="#ff0000"/>
<rect x="1116" y="268" width="1" height="38" fill="#ff0000"/>
<rect x="1114" y="271" width="5" height="11" fill="#ff0000"/>
<rect x="1124" y="266" width="1" height="53" fill="#00ff7f"/>
<rect x="1122" y="271" width="5" height="14" fill="#00ff7f"/>
<rect x="1132" y="269" width="1" height="21" fill="#ff0000"/>
<rect x="1130" y="270" width="5" height="15" fill="#ff0000"/>
<rect x="1140" y="267" width="1" height="18" fill="#00ff7f"/>
<rect x="1138" y="270" width="5" height="4" fill="#00ff7f"/>
<rect x="1148" y="248" width="1" height="27" fill="#ff0000"/>
<rect x="1146" y="258" width="5" height="17" fill="#ff0000"/>
<rect x="1156" y="249" width="1" height="15" fill="#ff0000"/>
<rect x="1154" y="252" width="5" height="7" fill="#ff0000"/>
<rect x="1164" y="245" width="1" height="24" fill="#00ff7f"/>
<rect x="1162" y="252" width="5" height="12" fill="#00ff7f"/>
<rect x="1172" y="247" width="1" height="33" fill="#ff0000"/>
<rect x="1170" y="255" width="5" height="10" fill="#ff0000"/>
<rect x="1180" y="233" width="1" height="30" fill="#00ff7f"/>
<rect x="1178" y="255" width="5" height="6" fill="#00ff7f"/>
<rect x="1188" y="261" width="1" height="11" fill="#00ff7f"/>
<rect x="1186" y="262" width="5" height="8" fill="#00ff7f"/>
<rect x="1196" y="247" width="1" height="27" fill="#ff0000"/>
<rect x="1194" y="254" width="5" height="18" fill="#ff0000"/>
<rect x="1204" y="249" width="1" height="22" fill="#00ff7f"/>
<rect x="1202" y="254" width="5" height="17" fill="#00ff7f"/>
<rect x="1212" y="269" width="1" height="64" fill="#00ff7f"/>
<rect x="1210" y="270" width="5" height="49" fill="#00ff7f"/>
<rect x="1220" y="313" width="1" height="164" fill="#00ff7f"/>
<rect x="1218" y="318" width="5" height="104" fill="#00ff7f"/>
<rect x="1228" y="383" width="1" height="42" fill="#ff0000"/>
<rect x="1226" y="385" width="5" height="37" fill="#ff0000"/>
<rect x="1236" y="364" width="1" height="27" fill="#ff0000"/>
<rect x="1234" y="367" width="5" height="20" fill="#ff0000"/>
<rect x="1244" y="358" width="1" height="43" fill="#00ff7f"/>
<rect x="1242" y="368" width="5" height="17" fill="#00ff7f"/>
<rect x="1252" y="370" width="1" height="68" fill="#00ff7f"/>
<rect x="1250" y="385" width="5" height="37" fill="#00ff7f"/>
<rect x="1260" y="396" width="1" height="26" fill="#ff0000"/>
<rect x="1258" y="401" width="5" height="21" fill="#ff0000"/>
<rect x="1268" y="366" width="1" height="66" fill="#00ff7f"/>
<rect x="1266" y="400" width="5" height="22" fill="#00ff7f"/>
<rect x="1276" y="399" width="1" height="28" fill="#ff0000"/>
<rect x="1274" y="413" width="5" height="9" fill="#ff0000"/>
<rect x="1284" y="405" width="1" height="24" fill="#ff0000"/>
<rect x="1282" y="408" width="5" height="6" fill="#ff0000"/>
<rect x="1292" y="404" width="1" height="40" fill="#00ff7f"/>
<rect x="1290" y="408" width="5" height="36" fill="#00ff7f"/>
<rect x="1300" y="443" width="1" height="59" fill="#00ff7f"/>
<rect x="1298" y="443" width="5" height="49" fill="#00ff7f"/>
<rect x="1308" y="437" width="1" height="69" fill="#ff0000"/>
<rect x="1306" y="472" width="5" height="20" fill="#ff0000"/>
<rect x="1316" y="459" width="1" height="76" fill="#00ff7f"/>
<rect x="1314" y="473" width="5" height="61" fill="#00ff7f"/>
<rect x="1324" y="520" width="1" height="40" fill="#00ff7f"/>
<rect x="1322" y="533" width="5" height="8" fill="#00ff7f"/>
<rect x="1332" y="531" width="1" height="36" fill="#00ff7f"/>
<rect x="1330" y="540" width="5" height="23" fill="#00ff7f"/>
<rect x="1340" y="518" width="1" height="46" fill="#ff0000"/>
<rect x="1338" y="558" width="5" height="5" fill="#ff0000"/>
<rect x="1348" y="543" width="1" height="39" fill="#ff0000"/>
<rect x="1346" y="544" width="5" height="16" fill="#ff0000"/>
<rect x="1356" y="542" width="1" height="40" fill="#00ff7f"/>
<rect x="1354" y="544" width="5" height="9" fill="#00ff7f"/>
<rect x="1364" y="512" width="1" height="64" fill="#ff0000"/>
<rect x="1362" y="512" width="5" height="41" fill="#ff0000"/>
<rect x="1372" y="493" width="1" height="49" fill="#00ff7f"/>
<rect x="1370" y="512" width="5" height="8" fill="#00ff7f"/>
<rect x="1380" y="511" width="1" height="16" fill="#00ff7f"/>
<rect x="1378" y="518" width="5" height="6" fill="#00ff7f"/>
<rect x="1388" y="513" width="1" height="28" fill="#ff0000"/>
<rect x="1386" y="517" width="5" height="8" fill="#ff0000"/>
<rect x="1396" y="499" width="1" height="29" fill="#ff0000"/>
<rect x="1394" y="504" width="5" height="14" fill="#ff0000"/>
<rect x="1404" y="503" width="1" height="66" fill="#00ff7f"/>
<rect x="1402" y="504" width="5" height="48" fill="#00ff7f"/>
<rect x="1412" y="528" width="1" height="43" fill="#ff0000"/>
<rect x="1410" y="546" width="5" height="7" fill="#ff0000"/>
<rect x="1420" y="526" width="1" height="27" fill="#ff0000"/>
<rect x="1418" y="531" width="5" height="16" fill="#ff0000"/>
<rect x="1428" y="530" width="1" height="11" fill="#00ff7f"/>
<rect x="1426" y="531" width="5" height="8" fill="#00ff7f"/>
<rect x="1436" y="536" width="1" height="18" fill="#00ff7f"/>
<rect x="1434" y="539" width="5" height="4" fill="#00ff7f"/>
<rect x="1444" y="534" width="1" height="26" fill="#00ff7f"/>
<rect x="1442" y="542" width="5" height="10" fill="#00ff7f"/>
<rect x="1452" y="528" width="1" height="54" fill="#ff0000"/>
<rect x="1450" y="530" width="5" height="22" fill="#ff0000"/>
<rect x="1460" y="493" width="1" height="46" fill="#ff0000"/>
<rect x="1458" y="506" width="5" height="23" fill="#ff0000"/>
<rect x="1468" y="474" width="1" height="33" fill="#ff0000"/>
<rect x="1466" y="479" width="5" height="27" fill="#ff0000"/>
<rect x="1476" y="472" width="1" height="16" fill="#ff0000"/>
<rect x="1474" y="475" width="5" height="5" fill="#ff0000"/>
<rect x="1484" y="461" width="1" height="20" fill="#ff0000"/>
<rect x="1482" y="475" width="5" height="3" fill="#ff0000"/>
<rect x="1492" y="469" width="1" height="30" fill="#ff0000"/>
<rect x="1490" y="473" width="5" height="3" fill="#ff0000"/>
<rect x="1500" y="452" width="1" height="31" fill="#ff0000"/>
<rect x="1498" y="462" width="5" height="12" fill="#ff0000"/>
<rect x="1508" y="443" width="1" height="50" fill="#ff0000"/>
<rect x="1506" y="452" width="5" height="11" fill="#ff0000"/>
<rect x="1516" y="424" width="1" height="31" fill="#ff0000"/>
<rect x="1514" y="429" width="5" height="24" fill="#ff0000"/>
<rect x="1524" y="423" width="1" height="9" fill="#00ff7f"/>
<rect x="1522" y="428" width="5" height="4" fill="#00ff7f"/>
<rect x="1532" y="429" width="1" height="31" fill="#00ff7f"/>
<rect x="1530" y="431" width="5" height="24" fill="#00ff7f"/>
<rect x="1540" y="446" width="1" height="27" fill="#00ff7f"/>
<rect x="1538" y="456" width="5" height="5" fill="#00ff7f"/>
<rect x="1548" y="456" width="1" height="24" fill="#00ff7f"/>
<rect x="1546" y="460" width="5" height="13" fill="#00ff7f"/>
<rect x="1556" y="414" width="1" height="65" fill="#ff0000"/>
<rect x="1554" y="433" width="5" height="39" fill="#ff0000"/>
<rect x="1564" y="427" width="1" height="41" fill="#00ff7f"/>
<rect x="1562" y="433" width="5" height="31" fill="#00ff7f"/>
<rect x="1572" y="456" width="1" height="14" fill="#ff0000"/>
<rect x="1570" y="460" width="5" height="4" fill="#ff0000"/>
<rect x="1580" y="443" width="1" height="27" fill="#ff0000"/>
<rect x="1578" y="445" width="5" height="16" fill="#ff0000"/>
<rect x="1588" y="420" width="1" height="26" fill="#ff0000"/>
<rect x="1586" y="430" width="5" height="16" fill="#ff0000"/>
<rect x="1596" y="414" width="1" height="29" fill="#ff0000"/>
<rect x="1594" y="419" width="5" height="12" fill="#ff0000"/>
<rect x="1604" y="384" width="1" height="49" fill="#ff0000"/>
<rect x="1602" y="387" width="5" height="33" fill="#ff0000"/>
<rect x="1612" y="384" width="1" height="26" fill="#00ff7f"/>
<rect x="1610" y="387" width="5" height="23" fill="#00ff7f"/>
<rect x="1620" y="398" width="1" height="16" fill="#00ff7f"/>
<rect x="1618" y="409" width="5" height="3" fill="#00ff7f"/>
<rect x="1628" y="410" width="1" height="39" fill="#00ff7f"/>
<rect x="1626" y="412" width="5" height="27" fill="#00ff7f"/>
<rect x="1636" y="367" width="1" height="87" fill="#ff0000"/>
<rect x="1634" y="391" width="5" height="48" fill="#ff0000"/>
<rect x="1644" y="381" width="1" height="24" fill="#00ff7f"/>
<rect x="1642" y="391" width="5" height="5" fill="#00ff7f"/>
<rect x="1652" y="384" width="1" height="44" fill="#00ff7f"/>
<rect x="1650" y="395" width="5" height="25" fill="#00ff7f"/>
<rect x="1660" y="403" width="1" height="23" fill="#ff0000"/>
<rect x="1658" y="410" width="5" height="11" fill="#ff0000"/>
</g>
<polyline points="4.2,457.3 13.9,455.2 41.8,443.3 66.8,430.8 97.5,418.3 115.6,409.9 139.2,403.7 164.3,395.3 181.0,389.0 211.6,380.7 216.0,378.9 310.8,354.7 416.0,327.6 424.0,325.3 467.4,311.5 484.9,306.9 547.6,286.5 565.0,280.6 597.7,270.8 625.6,262.9 675.7,251.1 717.5,242.7 759.2,236.5 801.0,232.3 832.0,230.5 857.0,226.9 880.9,226.3 912.0,226.3 930.0,227.2 960.0,226.6 1024.0,226.6 1026.0,227.6 1040.0,227.6 1041.0,226.6 1072.0,226.6 1073.0,227.6 1102.7,227.6 1121.5,229.4 1160.3,230.7 1184.1,231.3 1209.2,235.7 1240.0,243.0 1266.1,249.6 1305.3,263.4 1344.4,276.5 1388.8,291.3 1412.3,298.4 1427.9,301.0 1474.9,305.7 1527.1,309.6 1579.3,315.6 1610.7,318.2 1631.5,321.4 1660.5,327.4" fill="none" stroke="#ff0000" stroke-width="1" shape-rendering="crispEdges" />
<polyline points="4.4,138.3 23.8,138.3 42.6,142.7 68.9,147.7 87.7,152.1 107.8,159.5 120.3,168.8 137.8,184.5 162.9,205.8 180.5,215.8 195.5,223.9 205.5,232.7 216.0,239.8 239.3,255.0 249.4,260.1 258.0,263.6 278.2,263.6 290.7,259.4 304.5,259.4 308.3,260.3 320.8,259.4 335.8,259.4 345.8,261.3 352.1,260.1 377.2,260.7 402.2,262.6 408.5,262.6 410.0,263.6 447.0,263.6 448.0,262.4 457.0,262.4 458.0,263.6 474.0,264.0 478.7,264.9 498.7,271.2 521.3,276.4 545.0,276.7 550.7,277.7 566.4,273.3 585.2,270.8 615.3,270.4 632.0,272.4 642.8,271.3 661.6,273.2 680.4,272.6 691.7,274.4 705.5,273.4 730.5,274.4 783.1,272.9 788.2,272.3 805.7,275.1 824.5,277.3 840.0,277.3 857.0,274.8 888.4,274.6 907.2,279.0 932.3,282.7 957.3,287.1 976.1,292.1 986.1,294.6 1001.2,295.5 1032.5,295.5 1048.0,294.2 1052.5,293.3 1096.4,284.3 1127.7,282.7 1165.3,277.7 1202.9,271.4 1215.4,271.4 1240.0,275.2 1256.0,277.7 1268.7,279.6 1292.2,286.1 1310.5,295.3 1344.4,317.4 1370.5,331.8 1390.0,342.9 1401.8,349.5 1426.8,365.0 1458.8,387.7 1480.0,398.8 1500.5,409.8 1530.1,423.9 1555.2,434.5 1580.3,444.5 1596.5,451.4 1611.6,455.8 1630.4,462.7 1651.7,468.6 1660.5,468.6" fill="none" stroke="#ff00ff" stroke-width="1" shape-rendering="crispEdges" />
<polyline points="4.4,310.8 13.8,302.0 20.0,288.9 25.0,284.5 41.4,269.4 46.4,263.2 52.6,250.7 58.9,240.2 75.2,220.2 87.7,202.6 100.3,193.9 115.3,187.6 124.1,188.2 132.8,192.6 144.1,191.1 162.9,190.4 180.5,191.1 195.5,201.4 203.0,211.4 216.0,225.2 226.8,240.0 245.6,262.6 264.4,282.6 276.9,296.4 285.7,300.8 300.7,301.4 308.3,305.2 328.3,308.3 339.6,315.2 348.3,321.5 358.4,322.7 364.6,321.5 372.2,315.2 396.0,313.3 408.5,313.9 416.0,317.2 421.0,319.5 429.8,317.0 440.4,311.5 461.0,299.4 477.4,284.6 485.5,280.6 503.7,265.8 520.0,250.8 536.3,238.0 553.8,229.0 571.4,218.8 588.3,208.5 605.2,208.5 620.0,214.2 632.0,221.3 645.1,231.6 675.7,250.4 684.0,255.2 692.4,264.3 701.7,273.8 716.7,287.0 733.0,300.1 749.3,308.9 761.8,315.2 771.9,318.3 780.6,323.3 790.7,325.6 804.5,327.4 829.5,326.4 840.0,324.6 852.0,322.6 859.6,318.2 875.9,315.7 883.4,312.0 899.7,307.3 922.2,302.8 939.8,297.1 957.3,289.0 969.8,285.8 982.4,280.2 1001.2,270.8 1020.0,264.5 1032.5,262.0 1048.0,261.2 1052.5,261.6 1065.3,255.3 1083.9,248.2 1092.6,246.3 1121.5,247.6 1142.8,246.3 1165.3,248.8 1177.8,251.3 1187.9,255.5 1201.7,255.5 1212.9,259.5 1240.5,287.7 1256.0,302.7 1281.5,323.8 1309.0,355.1 1327.8,386.5 1341.6,410.5 1362.9,445.2 1380.5,470.4 1396.5,479.5 1412.8,497.6 1434.1,512.6 1452.9,528.3 1456.0,528.6 1457.0,529.8 1477.0,529.8 1478.0,528.6 1490.5,523.9 1499.5,519.5 1506.0,515.1 1523.6,502.9 1541.4,497.1 1559.3,489.6 1577.1,482.0 1590.0,473.5 1595.3,470.2 1609.0,457.1 1616.6,451.4 1630.4,445.2 1642.9,439.9 1660.5,432.4" fill="none" stroke="#ffa500" stroke-width="1" shape-rendering="crispEdges" />
<g shape-rendering="crispEdges">
<rect x="4" y="59" width="1680" height="2" fill="#ff0000"/>
<rect x="4" y="169" width="1680" height="2" fill="#ff0000"/>
<rect x="4" y="263" width="1680" height="2" fill="#ff0000"/>
<rect x="4" y="388" width="1680" height="2" fill="#ff0000"/>
<rect x="4" y="529" width="1680" height="2" fill="#00ff7f"/>
<rect x="1685" y="64" width="2" height="1" fill="#000"/>
<rect x="1685" y="97" width="2" height="1" fill="#000"/>
<rect x="1685" y="130" width="2" height="1" fill="#000"/>
<rect x="1685" y="163" width="2" height="1" fill="#000"/>
<rect x="1685" y="196" width="2" height="1" fill="#000"/>
<rect x="1685" y="229" width="2" height="1" fill="#000"/>
<rect x="1685" y="262" width="2" height="1" fill="#000"/>
<rect x="1685" y="295" width="2" height="1" fill="#000"/>
<rect x="1685" y="328" width="2" height="1" fill="#000"/>
<rect x="1685" y="361" width="2" height="1" fill="#000"/>
<rect x="1685" y="394" width="2" height="1" fill="#000"/>
<rect x="1685" y="427" width="2" height="1" fill="#000"/>
<rect x="1685" y="460" width="2" height="1" fill="#000"/>
<rect x="1685" y="493" width="2" height="1" fill="#000"/>
<rect x="1685" y="526" width="2" height="1" fill="#000"/>
<rect x="1685" y="559" width="2" height="1" fill="#000"/>
<rect x="1685" y="592" width="2" height="1" fill="#000"/>
<rect x="1685" y="599" width="1" height="1" fill="#000"/>
<rect x="1685" y="656" width="2" height="1" fill="#000"/>
<rect x="1685" y="749" width="2" height="1" fill="#000"/>
<rect x="1685" y="794" width="2" height="1" fill="#000"/>
<rect x="1685" y="839" width="2" height="1" fill="#000"/>
<rect x="4" y="875" width="1" height="3" fill="#000"/>
<rect x="68" y="875" width="1" height="3" fill="#000"/>
<rect x="132" y="875" width="1" height="3" fill="#000"/>
<rect x="196" y="875" width="1" height="3" fill="#000"/>
<rect x="260" y="875" width="1" height="3" fill="#000"/>
<rect x="324" y="875" width="1" height="3" fill="#000"/>
<rect x="388" y="875" width="1" height="3" fill="#000"/>
<rect x="452" y="875" width="1" height="3" fill="#000"/>
<rect x="516" y="875" width="1" height="3" fill="#000"/>
<rect x="580" y="875" width="1" height="3" fill="#000"/>
<rect x="644" y="875" width="1" height="3" fill="#000"/>
<rect x="708" y="875" width="1" height="3" fill="#000"/>
<rect x="772" y="875" width="1" height="3" fill="#000"/>
<rect x="836" y="875" width="1" height="3" fill="#000"/>
<rect x="900" y="875" width="1" height="3" fill="#000"/>
<rect x="964" y="875" width="1" height="3" fill="#000"/>
<rect x="1028" y="875" width="1" height="3" fill="#000"/>
<rect x="1092" y="875" width="1" height="3" fill="#000"/>
<rect x="1156" y="875" width="1" height="3" fill="#000"/>
<rect x="1220" y="875" width="1" height="3" fill="#000"/>
<rect x="1284" y="875" width="1" height="3" fill="#000"/>
<rect x="1348" y="875" width="1" height="3" fill="#000"/>
<rect x="1412" y="875" width="1" height="3" fill="#000"/>
<rect x="1476" y="875" width="1" height="3" fill="#000"/>
<rect x="1540" y="875" width="1" height="3" fill="#000"/>
<rect x="1604" y="875" width="1" height="3" fill="#000"/>
</g>
<text class="t" transform="translate(1690.00,67.90) scale(0.9,1)" >2013.70</text>
<text class="t" transform="translate(1690.00,100.90) scale(0.9,1)" >2003.20</text>
<text class="t" transform="translate(1690.00,133.90) scale(0.9,1)" >1992.70</text>
<text class="t" transform="translate(1690.00,166.90) scale(0.9,1)" >1982.20</text>
<text class="t" transform="translate(1690.00,199.90) scale(0.9,1)" >1971.70</text>
<text class="t" transform="translate(1690.00,232.90) scale(0.9,1)" >1961.20</text>
<text class="t" transform="translate(1690.00,265.90) scale(0.9,1)" >1950.70</text>
<text class="t" transform="translate(1690.00,298.90) scale(0.9,1)" >1940.20</text>
<text class="t" transform="translate(1690.00,331.90) scale(0.9,1)" >1929.70</text>
<text class="t" transform="translate(1690.00,364.90) scale(0.9,1)" >1918.90</text>
<text class="t" transform="translate(1690.00,397.90) scale(0.9,1)" >1908.40</text>
<text class="t" transform="translate(1690.00,430.90) scale(0.9,1)" >1897.90</text>
<text class="t" transform="translate(1690.00,463.90) scale(0.9,1)" >1887.40</text>
<text class="t" transform="translate(1690.00,496.90) scale(0.9,1)" >1876.90</text>
<text class="t" transform="translate(1690.00,529.90) scale(0.9,1)" >1866.40</text>
<text class="t" transform="translate(1690.00,562.90) scale(0.9,1)" >1855.90</text>
<text class="t" transform="translate(1690.00,595.90) scale(0.9,1)" >1845.40</text>
<g shape-rendering="crispEdges">
<rect x="1686" y="54" width="38" height="11" fill="#ff0000"/>
<rect x="1686" y="164" width="38" height="11" fill="#ff0000"/>
<rect x="1686" y="258" width="38" height="11" fill="#ff0000"/>
<rect x="1686" y="383" width="38" height="11" fill="#ff0000"/>
<rect x="1686" y="524" width="38" height="11" fill="#00ff7f"/>
<rect x="1686" y="405" width="38" height="11" fill="#000"/>
</g>
<text class="t w" transform="translate(1690.00,63.40) scale(0.9,1)" >2015.00</text>
<text class="t w" transform="translate(1690.00,173.40) scale(0.9,1)" >1980.00</text>
<text class="t w" transform="translate(1690.00,267.40) scale(0.9,1)" >1950.00</text>
<text class="t w" transform="translate(1690.00,392.40) scale(0.9,1)" >1910.00</text>
<text class="t w" transform="translate(1690.00,533.40) scale(0.9,1)" >1865.00</text>
<text class="t w" transform="translate(1690.00,414.40) scale(0.9,1)" >1903.33</text>
<text class="t" transform="translate(1688.50,608.20) scale(0.9,1)" >13.632</text>
<text class="t" transform="translate(1688.50,660.20) scale(0.9,1)" >0.00</text>
<text class="t" transform="translate(1688.50,752.90) scale(0.9,1)" >-23.435</text>
<text class="t" transform="translate(1688.50,769.20) scale(0.9,1)" >100</text>
<text class="t" transform="translate(1688.50,798.20) scale(0.9,1)" >70</text>
<text class="t" transform="translate(1688.50,843.20) scale(0.9,1)" >30</text>
<text class="t" transform="translate(1688.50,871.00) scale(0.9,1)" >0</text>
<g shape-rendering="crispEdges" fill="#000"><rect x="7" y="38" width="7" height="1"/><rect x="8" y="39" width="5" height="1"/><rect x="9" y="40" width="3" height="1"/><rect x="10" y="41" width="1" height="1"/></g>
<text class="t" transform="translate(18.60,43.40) scale(0.928,1)" xml:space="preserve">XAUUSD-,H4  1900.36 1905.51 1898.46 1903.33</text>
<text class="t" transform="translate(8.00,609.80) scale(0.94,1)" >MACD(12,26,9) 5.570 5.334</text>
<text class="t" transform="translate(8.00,771.00) scale(0.92,1)" >RSI(14) 55.9815</text>
<text class="tl" transform="translate(3.10,887.40) scale(0.932,1)" >17 Aug 2020</text>
<text class="tl" transform="translate(67.10,887.40) scale(0.932,1)" >18 Aug 12:00</text>
<text class="tl" transform="translate(131.10,887.40) scale(0.932,1)" >19 Aug 20:00</text>
<text class="tl" transform="translate(195.10,887.40) scale(0.932,1)" >21 Aug 04:00</text>
<text class="tl" transform="translate(259.10,887.40) scale(0.932,1)" >24 Aug 12:00</text>
<text class="tl" transform="translate(323.10,887.40) scale(0.932,1)" >25 Aug 20:00</text>
<text class="tl" transform="translate(387.10,887.40) scale(0.932,1)" >27 Aug 04:00</text>
<text class="tl" transform="translate(451.10,887.40) scale(0.932,1)" >28 Aug 12:00</text>
<text class="tl" transform="translate(515.10,887.40) scale(0.932,1)" >31 Aug 20:00</text>
<text class="tl" transform="translate(579.10,887.40) scale(0.932,1)" >2 Sep 04:00</text>
<text class="tl" transform="translate(643.10,887.40) scale(0.932,1)" >3 Sep 12:00</text>
<text class="tl" transform="translate(707.10,887.40) scale(0.932,1)" >6 Sep 23:00</text>
<text class="tl" transform="translate(771.10,887.40) scale(0.932,1)" >8 Sep 04:00</text>
<text class="tl" transform="translate(835.10,887.40) scale(0.932,1)" >9 Sep 12:00</text>
<text class="tl" transform="translate(899.10,887.40) scale(0.932,1)" >10 Sep 20:00</text>
<text class="tl" transform="translate(963.10,887.40) scale(0.932,1)" >14 Sep 04:00</text>
<text class="tl" transform="translate(1027.10,887.40) scale(0.932,1)" >15 Sep 12:00</text>
<text class="tl" transform="translate(1091.10,887.40) scale(0.932,1)" >16 Sep 20:00</text>
<text class="tl" transform="translate(1155.10,887.40) scale(0.932,1)" >18 Sep 04:00</text>
<text class="tl" transform="translate(1219.10,887.40) scale(0.932,1)" >21 Sep 12:00</text>
<text class="tl" transform="translate(1283.10,887.40) scale(0.932,1)" >22 Sep 20:00</text>
<text class="tl" transform="translate(1347.10,887.40) scale(0.932,1)" >24 Sep 04:00</text>
<text class="tl" transform="translate(1411.10,887.40) scale(0.932,1)" >25 Sep 12:00</text>
<text class="tl" transform="translate(1475.10,887.40) scale(0.932,1)" >28 Sep 20:00</text>
<text class="tl" transform="translate(1539.10,887.40) scale(0.932,1)" >30 Sep 04:00</text>
<text class="tl" transform="translate(1603.10,887.40) scale(0.932,1)" >1 Oct 12:00</text>
</svg></body></html>
